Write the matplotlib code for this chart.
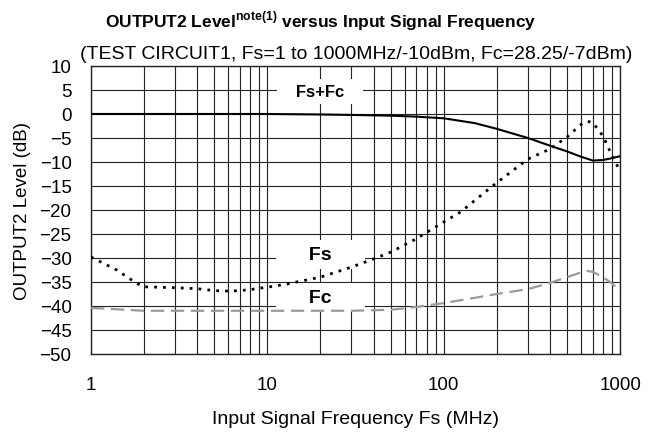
import matplotlib
matplotlib.use('Agg')
import matplotlib.pyplot as plt
from matplotlib import ticker
import numpy as np

plt.rcParams['font.family'] = ['Liberation Sans', 'DejaVu Sans']
plt.rcParams['mathtext.fontset'] = 'custom'
plt.rcParams['mathtext.bf'] = 'Liberation Sans:bold'
plt.rcParams['mathtext.rm'] = 'Liberation Sans'

# Fs+Fc (solid)
f_sum = [1, 5, 10, 20, 30, 50, 70, 100, 150, 200, 300, 400, 500, 600, 700, 800, 900, 1000]
db_sum = [0, 0, 0, -0.1, -0.2, -0.35, -0.55, -0.9, -1.9, -3.1, -5.0, -6.6, -7.8, -8.9, -9.7, -9.6, -9.2, -8.8]

# Fs (dotted)
f_fs = [1, 1.4, 1.8, 2, 3, 4, 5, 6, 7, 8, 9, 10, 13, 20, 30, 40, 50, 70, 100, 125, 150,
        200, 300, 400, 500, 600, 650, 700, 800, 900, 1000]
db_fs = [-29.8, -32.5, -35.2, -36, -36.2, -36.4, -36.8, -36.9, -36.8, -36.6, -36.3, -36.1, -35.4,
         -34, -31.9, -30.2, -28.8, -26, -22.5, -20.4, -18, -14.3, -9.4, -7.3, -4.8, -2.2, -1.5,
         -1.8, -4.6, -8.7, -11.9]

# Fc (dashed, grey)
f_fc = [1, 2, 5, 10, 20, 30, 50, 70, 100, 150, 200, 300, 400, 500, 600, 650, 700, 800, 900, 1000]
db_fc = [-40.4, -41, -41, -41, -41, -41, -40.8, -40.2, -39.4, -38.3, -37.5, -36.5, -35.2, -34,
         -33, -32.7, -32.9, -34, -35.3, -37]

x_ticks = [1, 10, 100, 1000]
y_ticks = list(range(-50, 11, 5))

fig = plt.figure(figsize=(6.59, 4.35), dpi=100)
ax = fig.add_axes([0.138, 0.184, 0.803, 0.662])

ax.set_xscale('log')
ax.set_xlim(1, 1000)
ax.set_ylim(-50, 10)
ax.set_xticks(x_ticks)
ax.xaxis.set_major_formatter(ticker.FuncFormatter(lambda x, pos: "%g" % x))
ax.xaxis.set_minor_locator(ticker.LogLocator(base=10, subs=np.arange(2, 10)))
ax.xaxis.set_minor_formatter(ticker.NullFormatter())
ax.set_yticks(y_ticks)
ax.grid(which='both', axis='x', color='#222222', linewidth=0.8)
ax.grid(which='major', axis='y', color='#222222', linewidth=0.8)
ax.tick_params(which='both', length=0, labelsize=13.5)
ax.tick_params(axis='y', pad=14)
ax.tick_params(axis='x', pad=16)
for s in ax.spines.values():
    s.set_linewidth(1.0)
    s.set_color('#222222')

ax.plot(f_sum, db_sum, color='black', linewidth=1.5, zorder=3)
ax.plot(f_fs, db_fs, color='black', linewidth=2.0, linestyle=(0, (1, 2.2)), zorder=3)
ax.plot(f_fc, db_fc, color='#9a9a9a', linewidth=1.6, linestyle=(0, (6, 3)), zorder=3)

box = dict(boxstyle='square,pad=0.3', facecolor='white', edgecolor='none')
ax.text(20, 4.6, '   Fs+Fc   ', fontsize=12, fontweight='bold', ha='center', va='center', bbox=box, zorder=2)
ax.text(20, -29.3, '     Fs     ', fontsize=14, fontweight='bold', ha='center', va='center', bbox=box, zorder=2)
ax.text(20, -38.3, '     Fc     ', fontsize=14, fontweight='bold', ha='center', va='center', bbox=box, zorder=2)

ax.set_xlabel('Input Signal Frequency Fs (MHz)', fontsize=14, labelpad=12)
ax.set_ylabel('OUTPUT2 Level (dB)', fontsize=13.5, labelpad=6)

fig.text(0.487, 0.952, r'OUTPUT2 Level$^{\bf{note(1)}}$ versus Input Signal Frequency',
         fontsize=12.5, fontweight='bold', ha='center', va='center')
fig.text(0.54, 0.874, '(TEST CIRCUIT1, Fs=1 to 1000MHz/-10dBm, Fc=28.25/-7dBm)',
         fontsize=14, ha='center', va='center')

plt.savefig('out.png', dpi=100)
